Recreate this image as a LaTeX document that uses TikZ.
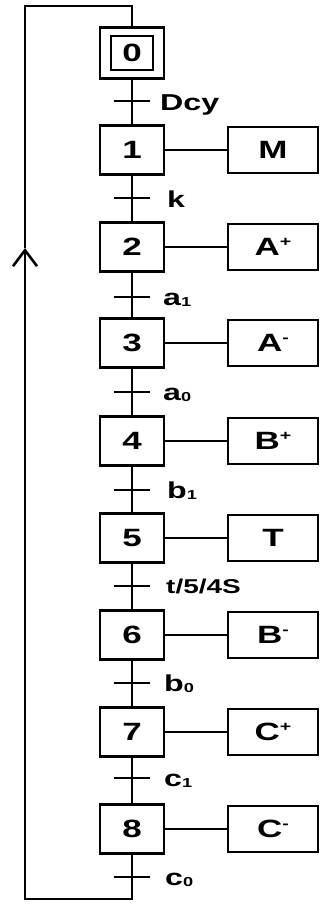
\documentclass[tikz,border=0pt]{standalone}
\usepackage{graphicx}
\usepackage{fontspec}
\setmainfont{Liberation Sans}
\usetikzlibrary{arrows.meta}
\newcommand{\hstretch}[1]{\scalebox{1.4}[1]{#1}}
\newcommand{\subd}[1]{\raisebox{-1pt}{\fontsize{13}{13}\selectfont #1}}
\newcommand{\supd}[1]{\raisebox{9pt}{\fontsize{14}{14}\selectfont #1}}
\tikzset{
  link/.style={line width=2.6pt},
  stepbox/.style={draw, line width=2.6pt, minimum width=64pt, minimum height=49pt, inner sep=0pt, font=\bfseries\fontsize{25}{25}\selectfont},
  initbox/.style={draw, line width=2.6pt, minimum width=42pt, minimum height=34pt, inner sep=0pt, font=\bfseries\fontsize{25}{25}\selectfont},
  actbox/.style={draw, line width=2.6pt, minimum width=90pt, minimum height=46pt, inner sep=0pt, font=\bfseries\fontsize{25}{25}\selectfont},
  lbl/.style={anchor=base west, inner sep=0pt, font=\bfseries\fontsize{23}{23}\selectfont},
}
\begin{document}
\begin{tikzpicture}[x=1pt,y=-1pt]
\useasboundingbox (0,0) rectangle (320,906);
% steps
\node[stepbox, minimum height=51pt] (s0) at (132,53) {};
\node[initbox] (s0i) at (132,53) {\hstretch{0}};
\node[stepbox] (s1) at (132,150) {\hstretch{1}};
\node[stepbox] (s2) at (132,247) {\hstretch{2}};
\node[stepbox] (s3) at (132,343) {\hstretch{3}};
\node[stepbox] (s4) at (132,441) {\hstretch{4}};
\node[stepbox] (s5) at (132,538) {\hstretch{5}};
\node[stepbox] (s6) at (132,635) {\hstretch{6}};
\node[stepbox] (s7) at (132,732) {\hstretch{7}};
\node[stepbox] (s8) at (132,829) {\hstretch{8}};
% actions
\node[actbox] (a1) at (273,150) {\hstretch{M}};
\node[actbox] (a2) at (273,247) {\hstretch{A\supd{+}}};
\node[actbox] (a3) at (273,343) {\hstretch{A\supd{-}}};
\node[actbox] (a4) at (273,441) {\hstretch{B\supd{+}}};
\node[actbox] (a5) at (273,538) {\hstretch{T}};
\node[actbox] (a6) at (273,635) {\hstretch{B\supd{-}}};
\node[actbox] (a7) at (273,732) {\hstretch{C\supd{+}}};
\node[actbox] (a8) at (273,829) {\hstretch{C\supd{-}}};
\foreach \i in {1,...,8} { \draw[link] (s\i.east) -- (a\i.west); }
% links between steps
\draw[link] (s0.south) -- (s1.north);
\draw[link] (s1.south) -- (s2.north);
\draw[link] (s2.south) -- (s3.north);
\draw[link] (s3.south) -- (s4.north);
\draw[link] (s4.south) -- (s5.north);
\draw[link] (s5.south) -- (s6.north);
\draw[link] (s6.south) -- (s7.north);
\draw[link] (s7.south) -- (s8.north);
% transitions
\coordinate (t1) at (132,101);
\coordinate (t2) at (132,198);
\coordinate (t3) at (132,297);
\coordinate (t4) at (132,392);
\coordinate (t5) at (132,490);
\coordinate (t6) at (132,586);
\coordinate (t7) at (132,683);
\coordinate (t8) at (132,778);
\coordinate (t9) at (132,877);
\foreach \t in {t1,t2,t3,t4,t5,t6,t7,t8,t9} { \draw[link] (\t) +(-18,0) -- +(18,0); }
\node[lbl] (l1) at (160,110) {\hstretch{Dcy}};
\node[lbl] (l2) at (167,207) {\hstretch{k}};
\node[lbl] (l3) at (163,305) {\hstretch{a\subd{1}}};
\node[lbl] (l4) at (163,400) {\hstretch{a\subd{0}}};
\node[lbl] (l5) at (167,498) {\hstretch{b\subd{1}}};
\node[lbl, font=\bfseries\fontsize{20}{20}\selectfont] (l6) at (166,593) {\hstretch{t/5/4S}};
\node[lbl] (l7) at (164,691) {\hstretch{b\subd{0}}};
\node[lbl] (l8) at (164,786) {\hstretch{c\subd{1}}};
\node[lbl] (l9) at (165,885) {\hstretch{c\subd{0}}};
% loop back
\coordinate (br) at (132,899);
\coordinate (bl) at (25,899);
\coordinate (ar) at (25,248);
\coordinate (tl) at (25,6);
\coordinate (tr) at (132,6);
\draw[link, -{Straight Barb[length=16pt,width=24pt]}] (s8.south) -- (br) -- (bl) -- (ar);
\draw[link] (ar) -- (tl) -- (tr) -- (s0.north);
\end{tikzpicture}
\end{document}
